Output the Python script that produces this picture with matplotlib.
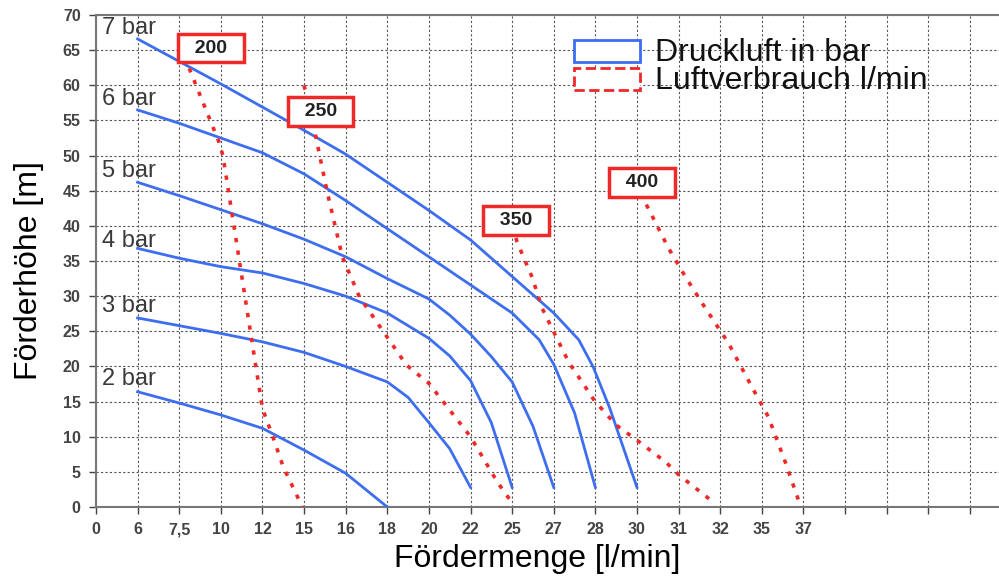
import matplotlib
matplotlib.use("Agg")
import matplotlib.pyplot as plt
from matplotlib.patches import Rectangle

# x axis is a category-like scale: every tick label sits on an equal slot,
# so curve x values below are given in slot units (0 = "0", 1 = "6", ...)
x_tick_labels = ["0", "6", "7,5", "10", "12", "15", "16", "18", "20", "22",
                 "25", "27", "28", "30", "31", "32", "35", "37", "", "", "", ""]
y_ticks = list(range(0, 75, 5))

# Druckluft curves (bar)
bar7_x = [1, 2, 3, 4, 5, 6, 7, 8, 9, 10, 11, 11.6, 11.95, 12.35, 13]
bar7_y = [66.6, 63.4, 60.2, 56.9, 53.6, 50.2, 46.2, 42.2, 38.0, 32.8, 27.6, 23.8, 19.9, 14.0, 2.8]
bar6_x = [1, 2, 3, 4, 5, 6, 7, 8, 9, 10, 10.65, 11, 11.5, 12]
bar6_y = [56.5, 54.6, 52.5, 50.4, 47.4, 43.6, 39.6, 35.6, 31.6, 27.6, 23.8, 20.3, 13.4, 2.8]
bar5_x = [1, 2, 3, 4, 5, 6, 7, 8, 8.5, 9, 9.5, 10, 10.5, 11]
bar5_y = [46.2, 44.3, 42.3, 40.3, 38.1, 35.6, 32.5, 29.6, 27.3, 24.6, 21.4, 17.8, 11.5, 2.8]
bar4_x = [1, 2, 3, 4, 5, 6, 7, 8, 8.5, 9, 9.5, 10]
bar4_y = [36.8, 35.4, 34.2, 33.3, 31.8, 30.0, 27.6, 24.0, 21.5, 18.0, 12.0, 2.8]
bar3_x = [1, 2, 3, 4, 5, 6, 7, 7.5, 8, 8.5, 9]
bar3_y = [26.9, 25.8, 24.7, 23.5, 22.0, 20.0, 17.8, 15.6, 12.0, 8.3, 2.8]
bar2_x = [1, 2, 3, 4, 5, 6, 7]
bar2_y = [16.4, 14.8, 13.1, 11.2, 8.1, 4.8, 0.0]

bar_labels = ["7 bar", "6 bar", "5 bar", "4 bar", "3 bar", "2 bar"]
bar_label_y = [68.2, 58.0, 47.8, 37.8, 28.6, 18.2]

# Luftverbrauch curves (l/min)
air200_x = [2.1, 2.2, 2.95, 3.05, 4.0, 4.25, 4.5, 4.96]
air200_y = [64.0, 63.0, 52.0, 50.0, 14.0, 10.0, 5.7, 0.0]
air250_x = [5.0, 5.25, 5.56, 5.92, 6.33, 7.46, 8.0, 9.0, 9.64, 9.95]
air250_y = [60.0, 53.6, 44.7, 35.6, 29.9, 20.2, 17.6, 10.0, 3.6, 1.0]
air350_x = [10.0, 10.12, 10.48, 10.72, 11.0, 11.37, 11.61, 11.97, 12.49, 13.0, 13.69, 14.0, 14.77]
air350_y = [40.0, 37.7, 32.7, 28.3, 24.9, 20.5, 18.4, 15.2, 11.7, 9.5, 6.4, 4.6, 1.0]
air400_x = [13.05, 13.21, 13.76, 14.17, 14.6, 15.2, 15.76, 16.16, 16.57, 16.88]
air400_y = [44.5, 43.2, 36.8, 32.7, 28.7, 23.3, 17.1, 12.8, 6.3, 1.0]

air_labels = ["200", "250", "350", "400"]
air_label_x = [2.76, 5.40, 10.10, 13.12]
air_label_y = [65.3, 56.3, 40.8, 46.2]

blue = "#3d6ef0"
red = "#f02828"
grey = "#444444"

plt.rcParams["font.family"] = ["Liberation Sans", "DejaVu Sans"]

fig = plt.figure(figsize=(9.99, 5.78), dpi=100)
ax = fig.add_axes([0.0961, 0.1228, 0.9039, 0.8512])

for xs, ys in [(bar7_x, bar7_y), (bar6_x, bar6_y), (bar5_x, bar5_y),
               (bar4_x, bar4_y), (bar3_x, bar3_y), (bar2_x, bar2_y)]:
    ax.plot(xs, ys, color=blue, lw=2, zorder=3)

for xs, ys in [(air200_x, air200_y), (air250_x, air250_y),
               (air350_x, air350_y), (air400_x, air400_y)]:
    ax.plot(xs, ys, color=red, lw=2.6, linestyle=(0, (1.2, 2.3)), zorder=4)

for label, y in zip(bar_labels, bar_label_y):
    ax.text(0.14, y, label, fontsize=17, color="#3a3a3a", va="center", ha="left", zorder=5)

for label, x, y in zip(air_labels, air_label_x, air_label_y):
    ax.text(x, y, "  " + label + "  ", fontsize=14, fontweight="bold", color="#222222",
            ha="center", va="center", zorder=6,
            bbox=dict(boxstyle="square,pad=0.3", fc="white", ec=red, lw=2.5))

ax.set_xlim(0, 21.7)
ax.set_ylim(0, 70)
ax.set_xticks(range(len(x_tick_labels)))
ax.set_xticklabels(x_tick_labels)
ax.set_yticks(y_ticks)
ax.tick_params(labelsize=11.5, colors=grey, length=5, width=1)
ax.tick_params(axis="x", pad=6)
ax.tick_params(axis="y", pad=6)
for lab in ax.get_xticklabels() + ax.get_yticklabels():
    lab.set_fontweight("bold")

ax.grid(True, color="#555555", linestyle=(0, (2, 2)), lw=0.8)
ax.set_axisbelow(True)
for side in ["left", "bottom", "top"]:
    ax.spines[side].set_color("#777777")
    ax.spines[side].set_linewidth(1.5)
ax.spines["right"].set_visible(False)

ax.set_xlabel("Fördermenge [l/min]", fontsize=23)
ax.xaxis.set_label_coords(0.489, -0.075)
ax.set_ylabel("Förderhöhe [m]", fontsize=23)
ax.yaxis.set_label_coords(-0.058, 0.48)

# legend drawn as outlined boxes with text, like the original
ax.add_patch(Rectangle((0.5293, 0.9045), 0.0731, 0.0445, transform=ax.transAxes,
                       fc="white", ec=blue, lw=2, zorder=7, clip_on=False))
ax.add_patch(Rectangle((0.5293, 0.8476), 0.0731, 0.0447, transform=ax.transAxes,
                       fc="white", ec=red, lw=2, ls="--", zorder=7, clip_on=False))
ax.text(0.619, 0.923, "Druckluft in bar", transform=ax.transAxes, fontsize=23,
        va="center", ha="left", color="#111111", zorder=7)
ax.text(0.619, 0.866, "Luftverbrauch l/min", transform=ax.transAxes, fontsize=23,
        va="center", ha="left", color="#111111", zorder=7)

fig.savefig("out.png", dpi=100)
